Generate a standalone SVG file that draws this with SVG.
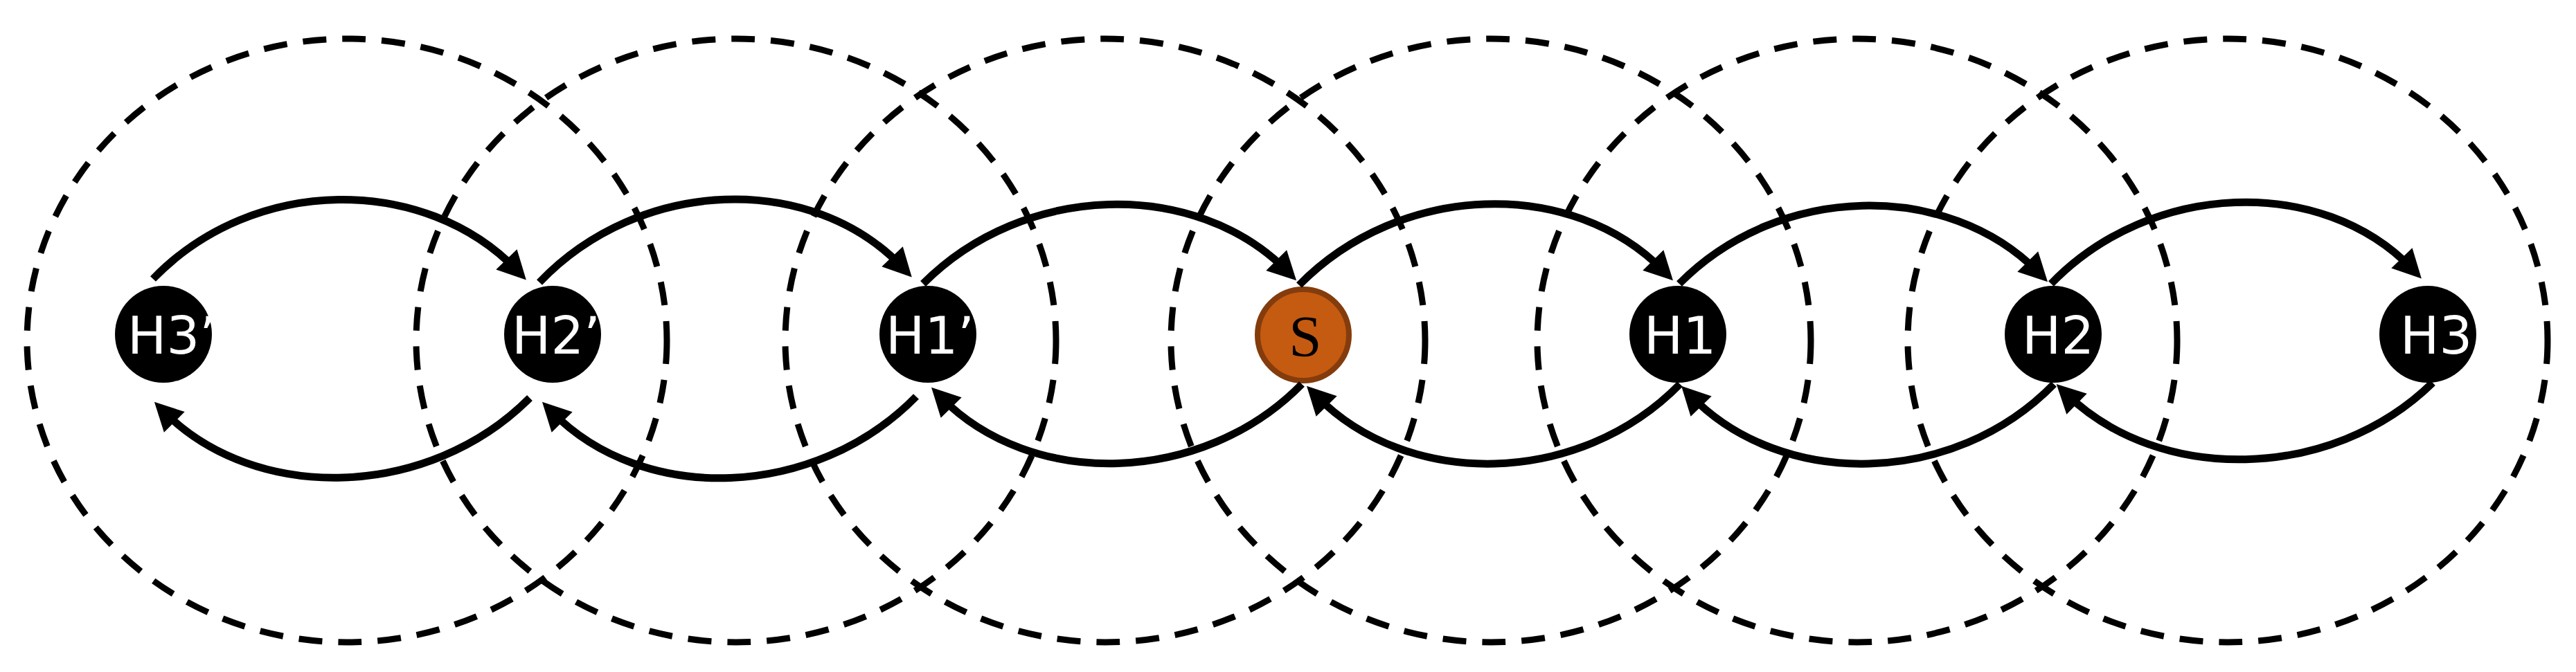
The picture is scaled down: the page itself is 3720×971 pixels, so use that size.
<svg xmlns="http://www.w3.org/2000/svg" width="3720" height="971" viewBox="0 0 3720 971">
<style>
.zone{fill:none;stroke:#000;stroke-width:9;stroke-dasharray:34 23}
.link{fill:none;stroke:#000;stroke-width:11;marker-end:url(#ah)}
.hop{fill:#000}
.lbl{fill:#fff;font-family:"DejaVu Sans",Verdana,sans-serif;font-size:75px}
.src{fill:#C55A11;stroke:#843C0C;stroke-width:8}
.slbl{fill:#000;font-family:"Liberation Serif","Times New Roman",serif;font-size:85px;text-anchor:middle}
</style>
<defs>
<marker id="ah" markerUnits="userSpaceOnUse" markerWidth="50" markerHeight="50" viewBox="0 -25 50 50" refX="21" refY="0" orient="auto" overflow="visible">
<path d="M0,-21 L41,0 L0,21 Z" fill="#000"/>
</marker>
</defs>
<rect width="3720" height="971" fill="#fff"/>
<g id="zones">
<ellipse class="zone" cx="501" cy="492" rx="462" ry="436"/>
<ellipse class="zone" cx="1063" cy="492" rx="462" ry="436"/>
<ellipse class="zone" cx="1596" cy="492" rx="462" ry="436"/>
<ellipse class="zone" cx="2153" cy="492" rx="462" ry="436"/>
<ellipse class="zone" cx="2682" cy="492" rx="462" ry="436"/>
<ellipse class="zone" cx="3217" cy="492" rx="462" ry="436"/>
</g>
<g id="H3p"><circle class="hop" cx="236" cy="483" r="70"/><text class="lbl" x="184" y="511">H3’</text></g>
<g id="H2p"><circle class="hop" cx="798" cy="483" r="70"/><text class="lbl" x="739" y="511">H2’</text></g>
<g id="H1p"><circle class="hop" cx="1340" cy="483" r="70"/><text class="lbl" x="1279" y="511">H1’</text></g>
<g id="S"><circle class="src" cx="1882" cy="484" r="66"/><text class="slbl" x="1885" y="515">S</text></g>
<g id="H1"><circle class="hop" cx="2423" cy="483" r="70"/><text class="lbl" x="2374" y="511">H1</text></g>
<g id="H2"><circle class="hop" cx="2965" cy="483" r="70"/><text class="lbl" x="2920" y="511">H2</text></g>
<g id="H3"><circle class="hop" cx="3506" cy="483" r="70"/><text class="lbl" x="3466" y="511">H3</text></g>
<g id="connectors">
<path class="link" d="M221,403 C367,252 614,253 746,390"/>
<path class="link" d="M779,408 C924,256 1172,248 1303,386"/>
<path class="link" d="M1333,410 C1479,263 1726,258 1858,391"/>
<path class="link" d="M1876,412 C2022,263 2270,256 2402,391"/>
<path class="link" d="M2425,410 C2569,264 2813,261 2943,393"/>
<path class="link" d="M2962,410 C3106,261 3353,253 3483,388"/>
<path class="link" d="M765,575 C619,722 369,728 237,595"/>
<path class="link" d="M1323,573 C1177,722 929,730 797,595"/>
<path class="link" d="M1880,555 C1736,702 1489,707 1359,574"/>
<path class="link" d="M2426,555 C2280,704 2033,707 1901,572"/>
<path class="link" d="M2966,555 C2821,704 2573,707 2442,572"/>
<path class="link" d="M3513,553 C3366,697 3117,699 2984,569"/>
</g>
</svg>
